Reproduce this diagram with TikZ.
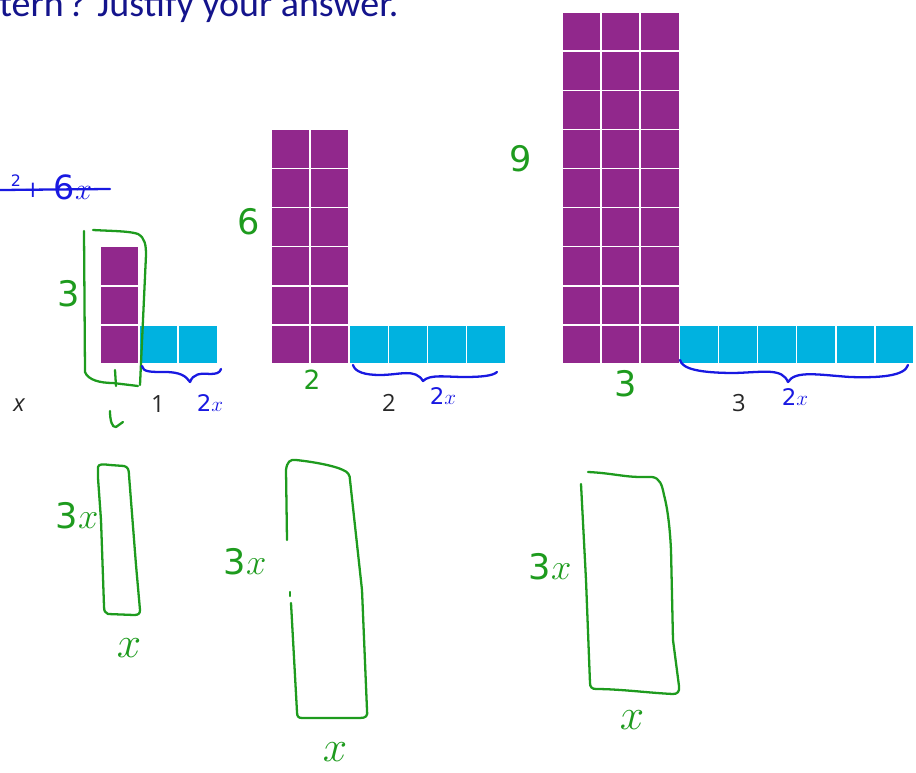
\documentclass[tikz,border=0pt]{standalone}
\usepackage{fontspec}
\setmainfont{Carlito}
\newfontfamily\labelfont{Open Sans}
\newfontfamily\handfont{DejaVu Sans}
\definecolor{tilepurple}{RGB}{145,40,140}
\definecolor{tilecyan}{RGB}{0,178,224}
\definecolor{inkgreen}{RGB}{30,155,30}
\definecolor{inkblue}{RGB}{25,25,225}
\definecolor{titleblue}{RGB}{20,20,140}
\definecolor{labelgray}{RGB}{40,40,40}
\tikzset{
  tile/.style={draw=white, line width=0.9pt},
  greenink/.style={draw=inkgreen, line width=1.3pt, line cap=round, line join=round},
  blueink/.style={draw=inkblue, line width=1.3pt, line cap=round, line join=round},
  numlabel/.style={text=labelgray, inner sep=0pt, font=\labelfont\fontsize{13.5}{14}\selectfont},
  greenlabel/.style={text=inkgreen, inner sep=0pt, font=\handfont\fontsize{20}{20}\selectfont},
  bluelabel/.style={text=inkblue, inner sep=0pt, font=\handfont\fontsize{13}{13}\selectfont}
}
\begin{document}
\begin{tikzpicture}[x=0.02cm, y=-0.02cm]
\useasboundingbox (0,0) rectangle (916,773);
\clip (0,0) rectangle (916,773);
\node[anchor=base west, inner sep=0pt, text=titleblue,
  font=\fontsize{21.6}{23}\selectfont] (title) at (-1,17) {tern\hspace{0.12em}? Justify your answer.};

% tile patterns
\foreach \c in {0} \foreach \r in {1,...,3}
  \filldraw[tile, fill=tilepurple] (100+39.1*\c,364-39.1*\r) rectangle ++(39.1,39.1);
\foreach \c in {0,1}
  \filldraw[tile, fill=tilecyan] (139.1+39.1*\c,324.9) rectangle ++(39.1,39.1);
\foreach \c in {0,1} \foreach \r in {1,...,6}
  \filldraw[tile, fill=tilepurple] (271+39.1*\c,364-39.1*\r) rectangle ++(39.1,39.1);
\foreach \c in {0,...,3}
  \filldraw[tile, fill=tilecyan] (349.2+39.1*\c,324.9) rectangle ++(39.1,39.1);
\foreach \c in {0,1,2} \foreach \r in {1,...,9}
  \filldraw[tile, fill=tilepurple] (562+39.1*\c,364-39.1*\r) rectangle ++(39.1,39.1);
\foreach \c in {0,...,5}
  \filldraw[tile, fill=tilecyan] (679.3+39.1*\c,324.9) rectangle ++(39.1,39.1);

\node[numlabel] (xname) at (19,405) {\itshape x};
\node[numlabel] (one) at (158,404) {1};
\node[numlabel] (two) at (389,403) {2};
\node[numlabel] (three) at (739,403) {3};

% green ink
\draw[greenink] (84,231) -- (85,372) .. controls (88,380) and (100,383) .. (113,383) -- (138,386);
\draw[greenink] (93,230) .. controls (110,231) and (130,231) .. (138,234)
  .. controls (145,238) and (146,245) .. (146,255) -- (140,385);
\draw[greenink] (115,370) -- (116,386);
\draw[greenink] (110,411) .. controls (110,420) and (112,428) .. (116,427) -- (123,422);
\node[greenlabel] (threeA) at (69,294) {3};
\node[greenlabel] (sixA) at (249,222) {6};
\node[greenlabel] (twoA) at (312,380) {\fontsize{15}{15}\selectfont 2};
\node[greenlabel] (nineA) at (521,159) {9};
\node[greenlabel] (threeB) at (626,384) {3};

% blue ink
\draw[blueink] (0,190) -- (110,189);
\node[bluelabel] (sqr) at (16,181) {\fontsize{9}{9}\selectfont 2};
\node[bluelabel] (plus) at (33,190) {+};
\node[bluelabel] (sixx) at (73,187) {\fontsize{19}{19}\selectfont 6$x$};
\draw[blueink] (142,366) .. controls (143,372) and (150,372) .. (165,372)
  .. controls (180,372) and (186,376) .. (190,382)
  .. controls (193,374) and (200,373) .. (210,374)
  .. controls (216,374) and (220,373) .. (221,369);
\draw[blueink] (353,365) .. controls (355,372) and (365,375) .. (380,375)
  .. controls (400,375) and (415,368) .. (423,381)
  .. controls (430,374) and (445,377) .. (465,377)
  .. controls (480,377) and (493,376) .. (497,372);
\draw[blueink] (680,360) .. controls (682,369) and (700,373) .. (735,373)
  .. controls (765,372) and (782,368) .. (788,382)
  .. controls (795,370) and (820,375) .. (850,377)
  .. controls (880,378) and (905,376) .. (908,365);
\node[bluelabel] (twoxA) at (210,403) {2$x$};
\node[bluelabel] (twoxB) at (443,396) {2$x$};
\node[bluelabel] (twoxC) at (795,397) {2$x$};

% rectangles
\draw[greenink] (98,478) -- (98,467) .. controls (99,464) and (102,464) .. (110,465) -- (124,466)
  .. controls (128,467) and (129,470) .. (129,475) -- (136,565) -- (140,610)
  .. controls (140,614) and (138,615) .. (134,615) -- (108,614)
  .. controls (105,613) and (104,611) .. (104,606) -- (101,520) -- cycle;
\node[greenlabel] (threexA) at (77,516) {3$x$};
\node[greenlabel] (xA) at (129,648) {\fontsize{28}{28}\selectfont$x$};

\draw[greenink] (287,540) -- (286,470) .. controls (287,462) and (290,459) .. (296,460)
  .. controls (315,462) and (335,466) .. (343,470) .. controls (348,472) and (350,475) .. (350,480)
  -- (362,590) -- (367,710) .. controls (368,716) and (366,718) .. (360,718) -- (302,718)
  .. controls (298,718) and (297,716) .. (297,712) -- (291,603);
\draw[greenink] (290,592) -- (290,596);
\node[greenlabel] (threexB) at (245,562) {3$x$};
\node[greenlabel] (xB) at (335,752) {\fontsize{28}{28}\selectfont$x$};

\draw[greenink] (588,472) .. controls (610,473) and (625,477) .. (640,477) -- (652,477)
  .. controls (660,478) and (662,485) .. (664,495) .. controls (668,510) and (670,530) .. (671,550)
  -- (673,640) -- (679,686) .. controls (680,692) and (677,694) .. (673,694)
  .. controls (650,693) and (620,689) .. (596,689) .. controls (592,689) and (590,687) .. (590,683)
  -- (586,580) -- (581,484);
\node[greenlabel] (threexC) at (550,567) {3$x$};
\node[greenlabel] (xC) at (632,720) {\fontsize{28}{28}\selectfont$x$};
\end{tikzpicture}
\end{document}
